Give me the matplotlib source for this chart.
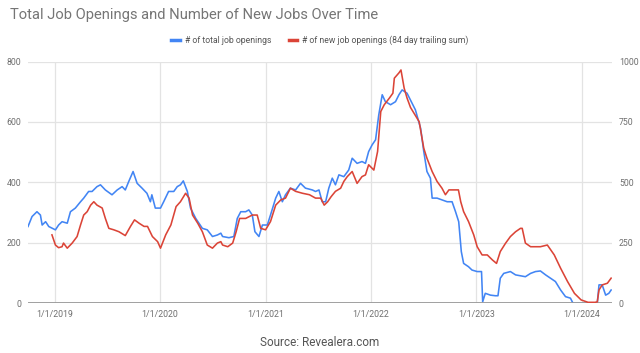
import matplotlib
matplotlib.use("Agg")
import matplotlib.pyplot as plt
import matplotlib.dates as mdates
import pandas as pd

plt.rcParams['font.family'] = ['Roboto', 'DejaVu Sans']

# ---- data ----
total_dates = [
    "2018-10-01", "2018-10-15", "2018-11-01", "2018-11-13", "2018-11-19", "2018-12-01", "2018-12-12",
    "2019-01-04", "2019-01-15", "2019-01-27", "2019-02-14", "2019-02-25", "2019-03-14", "2019-04-01",
    "2019-04-12", "2019-04-29", "2019-05-11", "2019-05-28", "2019-06-09", "2019-06-26", "2019-07-19",
    "2019-08-06", "2019-08-23", "2019-09-03", "2019-09-15", "2019-09-30", "2019-10-14", "2019-10-31",
    "2019-11-17", "2019-11-29", "2019-12-04", "2019-12-16", "2020-01-03", "2020-01-14", "2020-01-31",
    "2020-02-18", "2020-03-01", "2020-03-12", "2020-03-22", "2020-04-05", "2020-04-16", "2020-05-04",
    "2020-05-27", "2020-06-13", "2020-07-01", "2020-07-18", "2020-07-30", "2020-08-05", "2020-08-27",
    "2020-09-13", "2020-09-25", "2020-10-07", "2020-10-24", "2020-11-04", "2020-11-16", "2020-11-25",
    "2020-12-09", "2020-12-21", "2021-01-07", "2021-01-18", "2021-02-05", "2021-02-16", "2021-02-28",
    "2021-03-11", "2021-03-28", "2021-04-15", "2021-05-02", "2021-05-19", "2021-06-12", "2021-06-23",
    "2021-07-05", "2021-07-16", "2021-07-28", "2021-08-08", "2021-08-20", "2021-08-31", "2021-09-12",
    "2021-09-29", "2021-10-16", "2021-10-28", "2021-11-14", "2021-12-01", "2021-12-13", "2021-12-24",
    "2022-01-05", "2022-01-17", "2022-01-28", "2022-02-09", "2022-02-20", "2022-03-10", "2022-03-27",
    "2022-04-08", "2022-04-19", "2022-05-06", "2022-05-18", "2022-06-04", "2022-06-22", "2022-07-03",
    "2022-07-14", "2022-07-26", "2022-08-01", "2022-08-18", "2022-09-04", "2022-09-22", "2022-10-09",
    "2022-10-21", "2022-11-01", "2022-11-10", "2022-11-18", "2022-12-05", "2022-12-17", "2023-01-04",
    "2023-01-19", "2023-01-23", "2023-02-01", "2023-02-19", "2023-03-08", "2023-03-17", "2023-03-25",
    "2023-04-06", "2023-04-29", "2023-05-17", "2023-06-03", "2023-06-20", "2023-07-08", "2023-07-25",
    "2023-08-11", "2023-08-29", "2023-09-15", "2023-10-02", "2023-10-20", "2023-11-06", "2023-11-23",
    "2023-12-02", "2024-02-24", "2024-03-01", "2024-03-12", "2024-03-24", "2024-04-04", "2024-04-12",
]
total_openings = [
    254, 287, 303, 292, 259, 270, 254,
    243, 259, 270, 265, 303, 315, 336,
    348, 370, 370, 386, 392, 375, 359,
    375, 386, 375, 403, 436, 397, 381,
    364, 336, 359, 315, 315, 336, 370,
    370, 386, 392, 405, 370, 315, 281,
    248, 243, 221, 226, 232, 221, 217,
    221, 281, 303, 303, 309, 292, 237,
    221, 259, 259, 292, 348, 370, 336,
    359, 381, 375, 397, 381, 375, 370,
    375, 336, 336, 381, 414, 392, 425,
    419, 441, 480, 463, 469, 463, 502,
    524, 541, 623, 690, 667, 657, 667,
    690, 706, 695, 672, 640, 579, 502,
    436, 414, 348, 348, 342, 336, 336,
    303, 270, 171, 132, 121, 110, 105,
    105, 5, 33, 27, 25, 25, 83,
    99, 105, 94, 91, 88, 99, 105,
    107, 94, 83, 72, 44, 22, 17,
    0, 0, 61, 61, 27, 33, 44,
]

new_dates = [
    "2018-12-23", "2019-01-04", "2019-01-15", "2019-01-27", "2019-02-01", "2019-02-14", "2019-03-03",
    "2019-03-20", "2019-04-01", "2019-04-12", "2019-04-24", "2019-05-06", "2019-05-17", "2019-05-28",
    "2019-06-15", "2019-06-26", "2019-07-08", "2019-07-25", "2019-08-12", "2019-09-03", "2019-09-21",
    "2019-10-05", "2019-10-21", "2019-11-07", "2019-11-19", "2019-12-06", "2019-12-24", "2020-01-03",
    "2020-01-21", "2020-02-08", "2020-02-26", "2020-03-12", "2020-03-30", "2020-04-11", "2020-04-23",
    "2020-05-11", "2020-05-27", "2020-06-13", "2020-07-01", "2020-07-18", "2020-07-30", "2020-08-05",
    "2020-08-23", "2020-09-09", "2020-09-21", "2020-10-03", "2020-10-24", "2020-11-16", "2020-12-03",
    "2020-12-15", "2021-01-01", "2021-01-18", "2021-02-05", "2021-02-23", "2021-03-11", "2021-03-28",
    "2021-04-15", "2021-05-09", "2021-06-02", "2021-06-23", "2021-07-11", "2021-07-23", "2021-08-04",
    "2021-08-16", "2021-08-31", "2021-09-18", "2021-09-29", "2021-10-11", "2021-10-28", "2021-11-14",
    "2021-12-01", "2021-12-13", "2021-12-24", "2022-01-11", "2022-01-24", "2022-02-04", "2022-02-16",
    "2022-03-06", "2022-03-18", "2022-03-23", "2022-04-08", "2022-04-15", "2022-04-26", "2022-05-06",
    "2022-05-18", "2022-06-17", "2022-07-03", "2022-07-14", "2022-08-01", "2022-08-18", "2022-09-04",
    "2022-09-16", "2022-09-28", "2022-10-31", "2022-11-08", "2022-11-18", "2022-12-05", "2022-12-23",
    "2023-01-04", "2023-01-21", "2023-02-08", "2023-02-26", "2023-03-12", "2023-03-25", "2023-04-12",
    "2023-04-29", "2023-05-17", "2023-06-03", "2023-06-09", "2023-06-20", "2023-07-08", "2023-08-11",
    "2023-09-04", "2023-09-28", "2023-10-20", "2023-11-13", "2023-12-07", "2023-12-30", "2024-01-23",
    "2024-02-16", "2024-02-24", "2024-03-01", "2024-03-12", "2024-03-30", "2024-04-12",
]
new_openings = [
    283, 241, 230, 234, 249, 228, 249,
    276, 324, 365, 379, 406, 420, 406,
    394, 351, 310, 304, 296, 280, 318,
    345, 331, 318, 318, 276, 255, 228,
    283, 324, 400, 420, 455, 435, 365,
    331, 296, 241, 228, 249, 255, 241,
    234, 249, 296, 351, 351, 365, 365,
    310, 304, 338, 406, 428, 435, 476,
    463, 455, 449, 435, 435, 406, 420,
    441, 463, 476, 504, 524, 545, 496,
    524, 531, 573, 551, 628, 793, 821,
    849, 869, 931, 953, 965, 890, 849,
    810, 751, 641, 600, 545, 504, 476,
    449, 469, 469, 420, 379, 338, 283,
    234, 200, 200, 179, 165, 214, 248,
    276, 296, 310, 310, 249, 234, 234,
    241, 200, 145, 90, 41, 14, 4,
    4, 6, 55, 76, 83, 104,
]

left_ticks = [0, 200, 400, 600, 800]
right_ticks = [0, 250, 500, 750, 1000]
year_ticks = ["2019-01-01", "2020-01-01", "2021-01-01", "2022-01-01", "2023-01-01", "2024-01-01"]
year_labels = ["1/1/2019", "1/1/2020", "1/1/2021", "1/1/2022", "1/1/2023", "1/1/2024"]

title = "Total Job Openings and Number of New Jobs Over Time"
label_total = "# of total job openings"
label_new = "# of new job openings (84 day trailing sum)"
source = "Source: Revealera.com"

BLUE = "#4285F4"
RED = "#DB4437"
GRID = "#e3e3e3"
TXT = "#6f6f6f"

# ---- figure ----
fig = plt.figure(figsize=(6.4, 3.53), dpi=100)
ax = fig.add_axes([28 / 640, 1 - 303.3 / 353, (612 - 28) / 640, (303.3 - 61.5) / 353])
ax2 = ax.twinx()

td = pd.to_datetime(total_dates)
nd = pd.to_datetime(new_dates)

l1, = ax.plot(td, total_openings, color=BLUE, lw=1.15, zorder=3, label=label_total)
l2, = ax2.plot(nd, new_openings, color=RED, lw=1.15, zorder=3, label=label_new)

ax.set_ylim(0, 800)
ax2.set_ylim(0, 1000)
ax.set_yticks(left_ticks)
ax2.set_yticks(right_ticks)
ax.set_xlim(td[0], pd.Timestamp("2024-04-15"))
ax.set_xticks(pd.to_datetime(year_ticks))
ax.set_xticklabels(year_labels)

ax.grid(True, color=GRID, lw=0.9, zorder=0)
ax.set_axisbelow(True)
for a in (ax, ax2):
    for s in a.spines.values():
        s.set_visible(False)
    a.tick_params(length=0, labelsize=6.3, labelcolor=TXT)
ax.tick_params(axis='y', pad=5)
ax2.tick_params(axis='y', pad=5)
ax.tick_params(axis='x', pad=5)
ax.axhline(0, color="#999999", lw=1.3, zorder=4)

fig.text(10 / 640, 1 - 15 / 353, title, fontsize=10.6, color="#757575", ha="left", va="center")
leg = fig.legend(handles=[l1, l2], loc="center", bbox_to_anchor=(0.5, 1 - 40 / 353), ncol=2,
                 frameon=False, fontsize=6.2, handlelength=1.0, handletextpad=0.6,
                 columnspacing=2.0, labelcolor="#555555")
for h in leg.get_lines():
    h.set_linewidth(2.5)
fig.text(0.5, 1 - 342 / 353, source, fontsize=8.5, color="#555555", ha="center", va="center")

fig.savefig("out.png", dpi=100)
